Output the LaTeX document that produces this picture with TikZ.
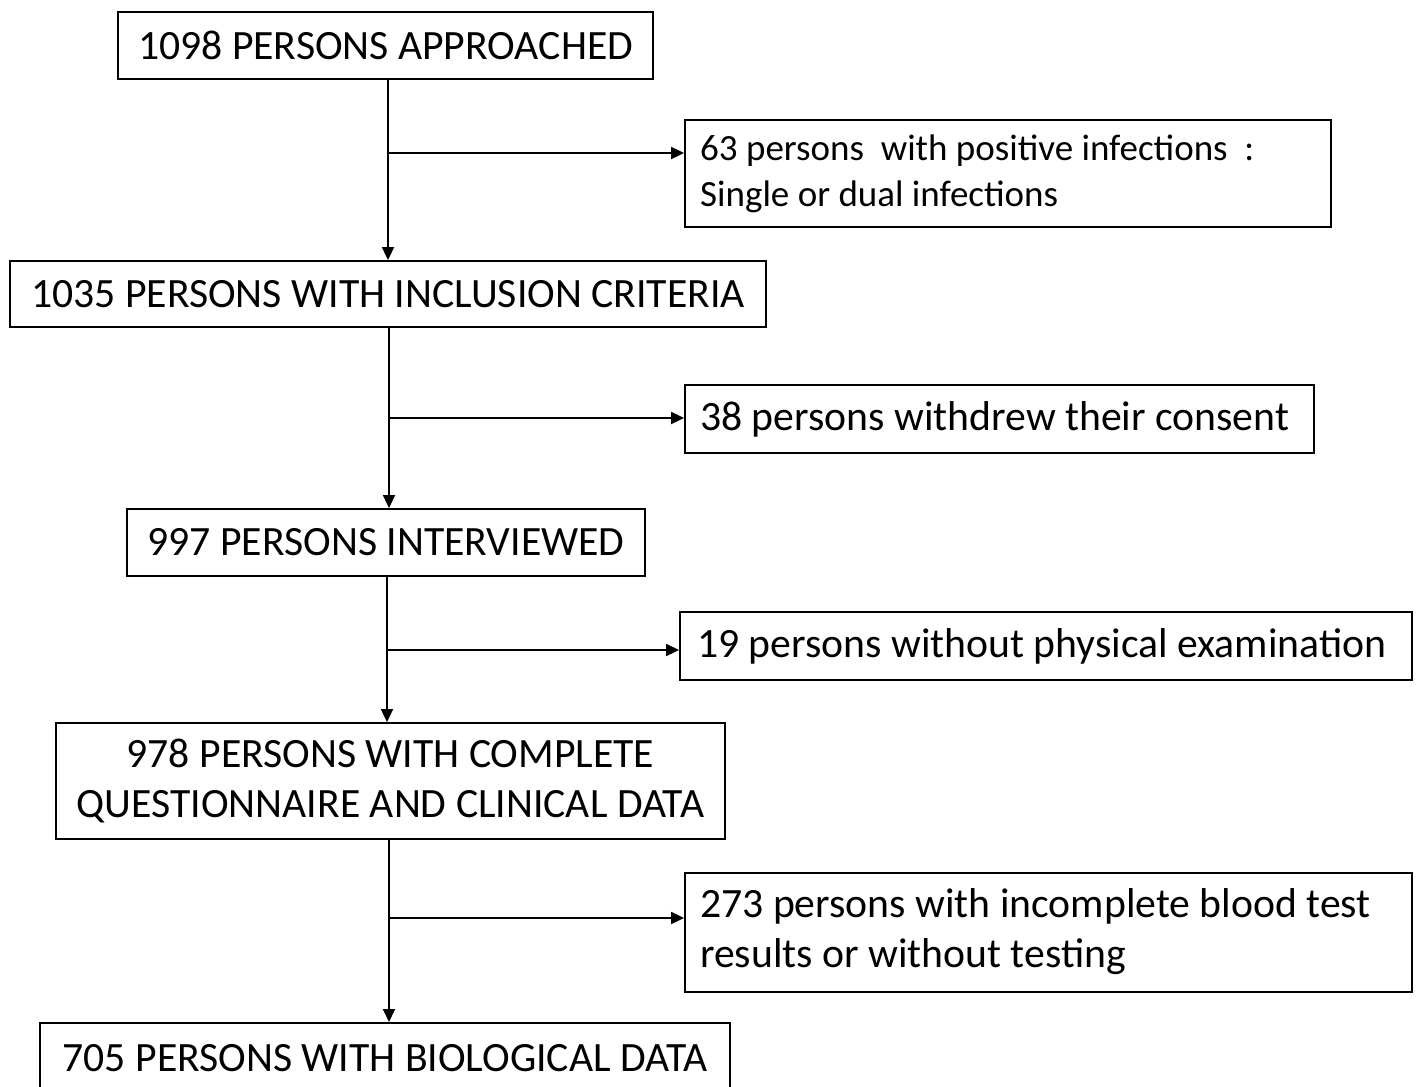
\documentclass[tikz,border=0pt]{standalone}
\usepackage{fontspec}
\setmainfont{Carlito}
\usetikzlibrary{arrows.meta}
\begin{document}
\begin{tikzpicture}[x=1pt,y=-1pt,
  box/.style={draw=black,line width=1.8pt,rectangle,inner sep=0pt,align=center,
    font=\fontsize{41.7}{50}\selectfont},
  side/.style={draw=black,line width=1.8pt,rectangle,inner sep=0pt},
  sidetext/.style={inner sep=0pt,anchor=west,align=left,
    font=\fontsize{41.7}{50}\selectfont},
  arr/.style={line width=1.8pt,-{Triangle[length=13pt,width=12pt]}}]
\clip (0,0) rectangle (1417,1087);
\fill[white] (0,0) rectangle (1417,1087);
% main boxes
\node[box,minimum width=535pt,minimum height=67pt] (b1) at (385.5,45.5) {1098 PERSONS APPROACHED};
\node[box,minimum width=756pt,minimum height=66pt] (b2) at (388,294) {1035 PERSONS WITH INCLUSION CRITERIA};
\node[box,minimum width=518pt,minimum height=67pt] (b3) at (386,542.5) {997 PERSONS INTERVIEWED};
\node[box,minimum width=669pt,minimum height=116pt] (b4) at (390.5,781) {978 PERSONS WITH COMPLETE\\QUESTIONNAIRE AND CLINICAL DATA};
\node[box,minimum width=690pt,minimum height=70pt,anchor=north] (b5) at (385,1022) {705 PERSONS WITH BIOLOGICAL DATA};
% side boxes
\node[side,minimum width=646pt,minimum height=107pt] (s1) at (1008,173.5) {};
\node[side,minimum width=629pt,minimum height=68pt] (s2) at (999.5,419) {};
\node[side,minimum width=732pt,minimum height=68pt] (s3) at (1046,646) {};
\node[side,minimum width=727pt,minimum height=119pt] (s4) at (1048.5,932.5) {};
\node[sidetext,font=\fontsize{37}{46}\selectfont] (t1) at (700,174) {63 persons\ \ with positive infections\ \ :\\Single or dual infections};
\node[sidetext] (t2) at (700,419) {38 persons withdrew their consent};
\node[sidetext] (t3) at (697,646) {19 persons without physical examination};
\node[sidetext] (t4) at (700,932) {273 persons with incomplete blood test\\results or without testing};
% junctions
\coordinate (j1) at (388,153);
\coordinate (j2) at (389,418);
\coordinate (j3) at (387,650);
\coordinate (j4) at (389,918);
% vertical connectors
\draw[arr] (b1.south -| j1) -- (b2.north -| j1);
\draw[arr] (b2.south -| j2) -- (b3.north -| j2);
\draw[arr] (b3.south -| j3) -- (b4.north -| j3);
\draw[arr] (b4.south -| j4) -- (b5.north -| j4);
% branches
\draw[arr] (j1) -- (j1 -| s1.west);
\draw[arr] (j2) -- (j2 -| s2.west);
\draw[arr] (j3) -- (j3 -| s3.west);
\draw[arr] (j4) -- (j4 -| s4.west);
\end{tikzpicture}
\end{document}
